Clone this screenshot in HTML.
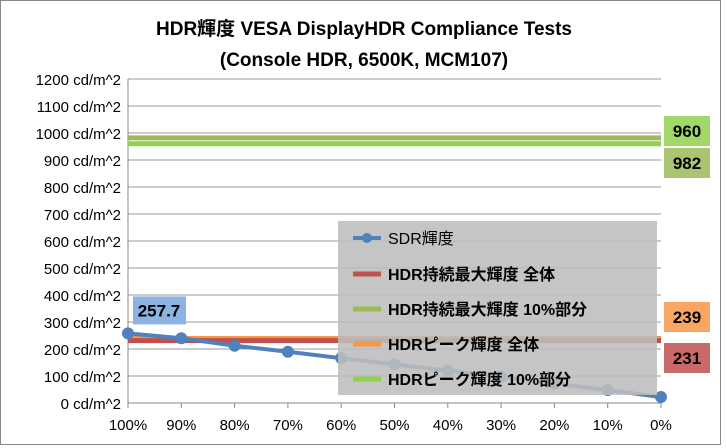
<!DOCTYPE html>
<html><head><meta charset="utf-8"><style>
html,body{margin:0;padding:0;background:#fff;}
svg{display:block;font-family:"Liberation Sans","Noto Sans CJK JP",sans-serif;}
</style></head><body>
<svg width="727" height="448" viewBox="0 0 727 448">
<rect x="0.5" y="0.5" width="720" height="444" fill="#fff" stroke="#888"/>
<text x="364" y="35" text-anchor="middle" font-size="19" font-weight="bold">HDR輝度 VESA DisplayHDR Compliance Tests</text>
<text x="364" y="66" text-anchor="middle" font-size="19" font-weight="bold">(Console HDR, 6500K, MCM107)</text>
<g id="grid"></g><g id="yticks"></g><g id="xticks"></g><g id="hlines"></g><g id="series"></g>
<g>
<rect x="338" y="221" width="319" height="174" fill="#bdbdbd" fill-opacity="0.88"/>
<g><line x1="353" y1="238" x2="381" y2="238" stroke="#4f81bd" stroke-width="4"/><circle cx="367" cy="238" r="5" fill="#4f81bd"/><text x="388" y="244" font-size="16">SDR輝度</text></g>
<g><line x1="353" y1="274" x2="381" y2="274" stroke="#c0504d" stroke-width="5"/><text x="388" y="280" font-size="16" font-weight="bold">HDR持続最大輝度 全体</text></g>
<g><line x1="353" y1="309" x2="381" y2="309" stroke="#9bbb59" stroke-width="5"/><text x="388" y="315" font-size="16" font-weight="bold">HDR持続最大輝度 10%部分</text></g>
<g><line x1="353" y1="344" x2="381" y2="344" stroke="#f79646" stroke-width="5"/><text x="388" y="350" font-size="16" font-weight="bold">HDRピーク輝度 全体</text></g>
<g><line x1="353" y1="379" x2="381" y2="379" stroke="#92d050" stroke-width="5"/><text x="388" y="385" font-size="16" font-weight="bold">HDRピーク輝度 10%部分</text></g>
</g>
<g id="labels"></g>
</svg>
<script>
const categories=["100%","90%","80%","70%","60%","50%","40%","30%","20%","10%","0%"];
const sdrValues=[257.7,240,212,190,166,143,120,97,72,48,22];
const yTicks=[0,100,200,300,400,500,600,700,800,900,1000,1100,1200];
const hdrNames=["sustained-10","peak-10","peak-full","sustained-full"];
const hdrValues=[982,960,239,231];
const hdrColors=["#9bbb59","#92d050","#f79646","#c0504d"];
const NS="http://www.w3.org/2000/svg";
const X0=128,X1=661,Y0=403,Y1=79,YMAX=1200;
function xs(i){return X0+(X1-X0)*i/(categories.length-1);}
function ys(v){return Y0-(Y0-Y1)*v/YMAX;}
function mk(tag,attrs,parent){const e=document.createElementNS(NS,tag);for(const k in attrs)e.setAttribute(k,attrs[k]);parent.appendChild(e);return e;}
const grid=document.getElementById('grid'),yt=document.getElementById('yticks'),xt=document.getElementById('xticks');
yTicks.forEach(v=>{
 const l=mk('line',{x1:X0,x2:X1,y1:ys(v),y2:ys(v),stroke:v===0?'#888':'#999','stroke-width':1},grid);
 
 
 const t=mk('text',{x:121,y:ys(v)+6,'text-anchor':'end','font-size':15},yt);
 t.textContent=v+' cd/m^2';
 
 
});
mk('line',{x1:X0,x2:X0,y1:Y1,y2:Y0,stroke:'#888'},grid);
categories.forEach((c,i)=>{
 mk('line',{x1:xs(i),x2:xs(i),y1:Y0,y2:Y0+5,stroke:'#888'},xt);
 const t=mk('text',{x:xs(i),y:Y0+27,'text-anchor':'middle','font-size':15},xt);
 t.textContent=c;
 
 
});
const hl=document.getElementById('hlines'),lb=document.getElementById('labels');
const labelY=[148,116,302,343];
hdrValues.forEach((v,i)=>{
 const l=mk('line',{x1:X0,x2:X1,y1:ys(v),y2:ys(v),stroke:hdrColors[i],'stroke-width':5},hl);
 
 
 const g=mk('g',{},lb);
 
 
 mk('rect',{x:664,y:labelY[i],width:46,height:30,fill:hdrColors[i],'fill-opacity':0.85},g);
 const t=mk('text',{x:687,y:labelY[i]+21,'text-anchor':'middle','font-size':17,'font-weight':'bold'},g);
 t.textContent=v;
});
const ser=document.getElementById('series');
const pts=sdrValues.map((v,i)=>xs(i)+','+ys(v)).join(' ');
const pl=mk('polyline',{points:pts,fill:'none',stroke:'#4f81bd','stroke-width':4},ser);


sdrValues.forEach((v,i)=>{
 const c=mk('circle',{cx:xs(i),cy:ys(v),r:6,fill:'#4f81bd'},ser);
 
 
});
const g=mk('g',{},lb);


mk('rect',{x:xs(0)+5,y:ys(sdrValues[0])-37,width:53,height:28,fill:'#8db3e2'},g);
const t=mk('text',{x:xs(0)+31,y:ys(sdrValues[0])-17,'text-anchor':'middle','font-size':17,'font-weight':'bold'},g);
t.textContent=sdrValues[0];
</script>
</body></html>
